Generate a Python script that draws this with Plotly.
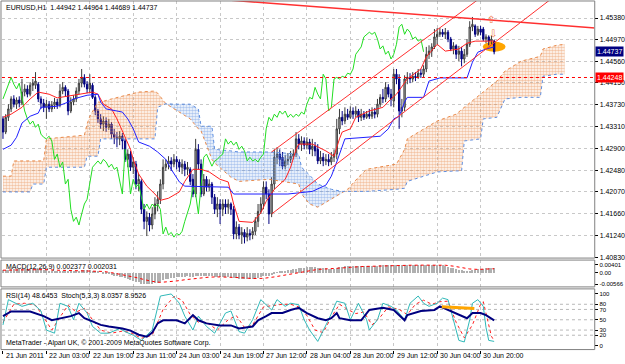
import plotly.graph_objects as go

W, H = 625, 364
BASE, PIP = 1.4, 0.0001

# ---------------- data ----------------
# H1 bars, index 0 = 21 Jun 2011 11:00 ; prices in pips above 1.4000
BAR_OPEN = [
    346, 321, 349, 365, 384, 374, 382, 376, 397, 403,
    393, 410, 410, 412, 384, 376, 368, 374, 365, 372,
    378, 372, 399, 406, 399, 361, 378, 384, 399, 414,
    425, 412, 403, 410, 387, 361, 346, 336, 342, 330,
    336, 317, 311, 308, 313, 304, 269, 279, 254, 260,
    222, 227, 174, 151, 159, 144, 165, 184, 193, 222,
    254, 260, 266, 260, 269, 264, 254, 260, 250, 250,
    231, 203, 288, 260, 203, 231, 216, 222, 197, 174,
    184, 174, 184, 178, 184, 174, 127, 140, 125, 130,
    121, 128, 125, 132, 151, 170, 184, 216, 203, 165,
    222, 273, 279, 273, 256, 266, 269, 275, 279, 308,
    298, 304, 296, 302, 288, 294, 288, 266, 273, 266,
    269, 264, 273, 279, 327, 349, 342, 355, 349, 361,
    355, 361, 349, 355, 349, 355, 351, 359, 355, 374,
    387, 384, 406, 393, 380, 431, 422, 361, 368, 422,
    425, 422, 427, 425, 433, 431, 441, 469, 475, 483,
    502, 507, 511, 507, 511, 498, 479, 485, 469, 475,
    460, 469, 488, 521, 523, 507, 517, 517, 498, 502,
    494, 494.2]
BAR_HIGH = [
    351, 355, 374, 389, 391, 387, 389, 422, 412, 410,
    416, 422, 435, 416, 389, 384, 382, 380, 380, 386,
    384, 412, 416, 410, 403, 387, 391, 406, 422, 441,
    431, 418, 431, 414, 391, 365, 355, 351, 349, 346,
    340, 327, 321, 323, 319, 308, 288, 285, 273, 266,
    241, 231, 184, 170, 167, 178, 197, 208, 231, 269,
    269, 275, 273, 279, 275, 269, 269, 266, 264, 254,
    241, 308, 298, 269, 241, 237, 231, 226, 203, 197,
    193, 193, 193, 193, 187, 180, 151, 146, 140, 136,
    140, 136, 140, 159, 184, 197, 227, 227, 212, 235,
    288, 292, 288, 283, 277, 281, 285, 288, 321, 317,
    313, 311, 311, 308, 308, 302, 298, 285, 281, 279,
    279, 283, 288, 346, 365, 361, 368, 365, 370, 368,
    370, 365, 365, 361, 361, 365, 368, 367, 384, 393,
    403, 416, 412, 403, 441, 441, 431, 384, 429, 435,
    433, 435, 435, 441, 441, 448, 483, 486, 490, 517,
    519, 519, 517, 519, 515, 502, 492, 488, 485, 483,
    479, 498, 532, 540, 526, 523, 523, 521, 507, 505,
    504, 496.4]
BAR_LOW = [
    308, 317, 342, 359, 368, 365, 368, 372, 389, 387,
    389, 399, 403, 378, 365, 359, 346, 359, 359, 365,
    365, 368, 393, 389, 353, 357, 372, 378, 393, 406,
    406, 395, 397, 384, 353, 338, 327, 323, 321, 325,
    308, 298, 292, 296, 288, 264, 254, 247, 241, 212,
    208, 165, 136, 123, 132, 136, 155, 170, 184, 212,
    247, 250, 247, 254, 250, 245, 241, 237, 239, 220,
    197, 197, 250, 197, 199, 208, 208, 184, 165, 159,
    146, 161, 165, 165, 163, 117, 117, 117, 108, 109,
    113, 115, 117, 125, 140, 165, 174, 193, 146, 159,
    212, 260, 256, 250, 250, 258, 262, 269, 273, 288,
    285, 288, 288, 279, 275, 275, 260, 260, 256, 258,
    256, 258, 264, 269, 317, 334, 336, 344, 346, 346,
    349, 340, 342, 344, 346, 346, 346, 347, 349, 368,
    376, 378, 387, 370, 368, 412, 327, 349, 361, 412,
    414, 416, 418, 422, 424, 425, 435, 460, 464, 479,
    488, 502, 502, 498, 492, 475, 469, 460, 456, 446,
    452, 464, 483, 513, 502, 504, 505, 494, 490, 486,
    488, 468.9]
BAR_CLOSE = [
    321, 349, 365, 384, 374, 382, 376, 397, 403, 393,
    410, 414, 418, 384, 376, 368, 374, 365, 372, 378,
    372, 399, 406, 399, 361, 378, 384, 399, 414, 425,
    412, 403, 414, 387, 361, 346, 336, 342, 330, 336,
    317, 311, 308, 313, 304, 269, 279, 254, 264, 222,
    231, 174, 151, 159, 144, 165, 184, 193, 222, 254,
    260, 266, 260, 269, 264, 254, 260, 250, 254, 227,
    203, 288, 260, 203, 231, 216, 222, 197, 174, 184,
    174, 184, 178, 184, 174, 127, 140, 125, 130, 121,
    128, 125, 132, 151, 170, 184, 216, 203, 165, 222,
    273, 279, 269, 256, 266, 269, 275, 279, 308, 298,
    304, 296, 302, 288, 294, 285, 266, 273, 266, 269,
    264, 273, 279, 327, 349, 342, 355, 349, 361, 355,
    361, 349, 355, 349, 355, 351, 359, 355, 374, 387,
    384, 406, 393, 384, 431, 422, 361, 368, 422, 425,
    422, 427, 425, 433, 431, 441, 469, 475, 483, 502,
    507, 511, 507, 511, 498, 479, 485, 469, 475, 460,
    469, 488, 521, 526, 507, 517, 511, 498, 502, 494,
    498, 473.7]

TIME_LABEL_BARS = [0, 16, 32, 48, 64, 80, 96, 112, 128, 144, 160, 176]
TIME_LABELS = ["21 Jun 2011", "22 Jun 03:00", "22 Jun 19:00", "23 Jun 11:00",
               "24 Jun 03:00", "24 Jun 19:00", "27 Jun 12:00", "28 Jun 04:00",
               "28 Jun 20:00", "29 Jun 12:00", "30 Jun 04:00", "30 Jun 20:00"]
PRICE_TICKS = [1.45380, 1.44970, 1.44560, 1.44150, 1.43730, 1.43310,
               1.42900, 1.42480, 1.42070, 1.41660, 1.41240, 1.40830]

# Ichimoku (pips above 1.4000)
TENKAN_BARS = [0, 3, 7, 10, 13, 17, 20, 24, 28, 33, 35, 37, 40, 42, 44, 47, 48, 50, 53, 56,
               58, 61, 65, 67, 70, 73, 76, 80, 83, 85, 87, 92, 95, 97, 100, 104, 106, 108,
               109, 114, 119, 122, 124, 125, 128, 130, 135, 140, 143, 145, 149, 154, 156,
               160, 163, 168, 171, 174, 181]
TENKAN = [349, 355, 368, 384, 397, 393, 386, 389, 393, 397, 393, 374, 365, 346, 323, 288, 269,
          241, 218, 203, 191, 195, 207, 227, 250, 250, 245, 231, 226, 184, 151, 149, 167, 189,
          212, 231, 254, 288, 298, 298, 285, 275, 308, 321, 327, 349, 361, 368, 384, 393, 422,
          441, 464, 488, 475, 479, 490, 494, 494]
KIJUN_BARS = [0, 3, 5, 7, 10, 13, 14, 20, 24, 26, 31, 35, 36, 38, 44, 46, 48, 50, 54, 57, 60,
              62, 65, 67, 83, 85, 105, 114, 119, 121, 123, 126, 139, 142, 144, 146, 148, 149,
              155, 157, 161, 171, 173, 175, 178, 181]
KIJUN = [288, 296, 311, 338, 351, 357, 368, 370, 378, 384, 391, 393, 378, 365, 359, 346, 327,
         302, 294, 283, 269, 250, 226, 218, 216, 203, 203, 208, 220, 237, 264, 308, 313, 327,
         346, 351, 378, 387, 387, 418, 424, 424, 454, 473, 479, 483]
KUMO_BARS = [0, 3, 4, 10, 11, 15, 16, 21, 30, 31, 32, 35, 36, 40, 50, 56, 57, 60, 63, 69, 72,
             73, 77, 78, 84, 87, 98, 109, 110, 113, 116, 121, 125, 126, 127, 131, 134, 145,
             148, 149, 156, 160, 167, 169, 170, 176, 177, 182, 185, 191, 198, 199, 204, 207]
SPAN_A = [237, 237, 266, 266, 266, 266, 308, 311, 315, 336, 351, 378, 378, 384, 397, 399, 395,
          375, 365, 346, 327, 323, 269, 262, 235, 227, 231, 222, 203, 184, 178, 193, 205, 208,
          212, 235, 250, 260, 288, 308, 330, 342, 355, 365, 368, 393, 397, 418, 437, 456, 465,
          479, 486, 488]
SPAN_B = [207, 207, 207, 207, 222, 222, 254, 254, 254, 275, 275, 275, 308, 308, 308, 308, 368,
          375, 374, 374, 365, 332, 332, 288, 285, 283, 283, 279, 254, 239, 222, 212, 208, 208,
          208, 208, 208, 212, 214, 227, 239, 245, 247, 247, 304, 308, 346, 349, 384, 387, 387,
          427, 431, 431]
CHIKOU_SHIFT = 26

# MACD(12,26,9), units of 1e-4
MACD_MAIN = [
    14, 15, 16, 17, 17, 17, 17, 18, 18, 18,
    19, 19, 20, 18, 16, 14, 13, 11, 10, 10,
    9, 10, 11, 11, 8, 8, 8, 9, 11, 13,
    13, 12, 13, 11, 8, 4, 0, -3, -6, -8,
    -12, -15, -18, -20, -23, -28, -31, -36, -39, -44,
    -47, -53, -56, -56.6, -56, -54, -51, -48, -43, -37,
    -33, -29, -27, -24, -22, -21, -20, -19, -18, -19,
    -21, -16, -15, -17, -17, -17, -17, -18, -20, -21,
    -22, -22, -22, -22, -22, -25, -27, -29, -30, -32,
    -32, -32, -32, -30, -27, -23, -18, -15, -15, -10,
    -3, 2, 6, 8, 11, 13, 15, 17, 21, 23,
    25, 26, 27, 27, 27, 27, 25, 24, 23, 22,
    21, 21, 21, 24, 28, 30, 32, 33, 34, 35,
    35, 35, 35, 35, 35, 34, 34, 34, 35, 36,
    37, 38, 38, 37, 39, 40, 37, 36, 37, 38,
    38, 38, 38, 38, 38, 38, 39, 40, 40, 40.1,
    40, 39, 37, 34, 30, 26, 22, 18, 15, 12,
    10, 9, 10, 13, 16, 18, 20, 21, 22, 23,
    23.5, 23.77]
MACD_SIG_BARS = [0, 5, 10, 15, 20, 25, 30, 34, 37, 40, 43, 46, 49, 52, 55, 58, 61, 64, 67, 70,
                 73, 76, 80, 84, 88, 92, 96, 100, 104, 108, 112, 116, 120, 124, 128, 132, 136,
                 140, 145, 150, 155, 160, 163, 166, 169, 172, 175, 178, 181]
MACD_SIG = [13, 15, 17, 16, 13, 11, 11, 11, 7, 1, -6, -14, -23, -33, -42, -47, -45, -40, -34,
            -29, -24, -21, -20, -21, -24, -28, -27, -20, -10, 0, 10, 17, 20, 22, 27, 31, 33,
            35, 37, 37.5, 38, 39, 37.5, 33, 26, 19, 17, 18.8, 20.31]

# RSI(14) and Stochastic(5,3,3)
RSI_BARS = [0, 3, 10, 15, 18, 21, 25, 28, 30, 33, 36, 39, 44, 47, 50, 53, 55, 57, 59, 64, 67,
            70, 72, 75, 80, 84, 87, 92, 94, 97, 99, 103, 106, 109, 112, 116, 119, 121, 123,
            124, 128, 132, 135, 140, 144, 148, 149, 154, 159, 161, 165, 168, 171, 173, 176,
            178, 181]
RSI = [57, 66, 66, 57, 49, 53, 57, 63, 53, 47, 40, 37, 33, 29, 21, 17, 25, 43, 49, 49, 43, 59,
       49, 43, 39, 39, 33, 37, 49, 57, 63, 63, 69, 73, 63, 53, 49, 53, 63, 53, 49, 49, 69, 73,
       69, 49, 59, 67, 69, 76, 67, 59, 53, 63, 63, 59, 48.6453]
STO_BARS = [0, 2, 7, 11, 14, 16, 19, 21, 24, 26, 28, 31, 33, 36, 39, 43, 45, 48, 51, 55, 58,
            62, 65, 67, 70, 72, 75, 78, 82, 84, 87, 89, 92, 95, 99, 101, 104, 106, 109, 111,
            113, 116, 120, 123, 126, 128, 131, 134, 135, 138, 140, 143, 145, 148, 150, 153,
            155, 157, 160, 162, 164, 166, 168, 170, 172, 173, 175, 177, 178, 179, 180, 181]
STO_MAIN = [40, 89, 76, 82, 67, 30, 24, 82, 76, 50, 82, 63, 37, 24, 24, 33, 27, 20, 10, 30,
            96, 100, 82, 57, 30, 57, 37, 24, 63, 67, 27, 24, 50, 89, 69, 89, 76, 82, 79, 50,
            30, 8, 50, 86, 82, 50, 82, 50, 30, 50, 82, 76, 69, 50, 82, 96, 82, 76, 82, 92, 89,
            50, 10, 7, 50, 82, 89, 76, 35, 10, 9, 8.0357]
STO_SIG_BARS = [0, 4, 8, 12, 15, 18, 21, 24, 27, 30, 33, 36, 40, 44, 47, 51, 55, 59, 63, 66,
                69, 72, 75, 79, 83, 86, 89, 92, 96, 100, 103, 106, 109, 112, 115, 118, 121, 124,
                127, 130, 133, 136, 139, 142, 146, 149, 152, 155, 158, 161, 164, 167, 170, 173,
                176, 177, 178, 179, 180, 181]
STO_SIG = [45, 80, 82, 78, 55, 30, 55, 78, 65, 72, 50, 30, 24, 28, 25, 14, 20, 70, 95, 88, 60,
           45, 45, 30, 50, 58, 35, 40, 75, 78, 80, 80, 75, 58, 30, 25, 55, 80, 70, 62, 65, 40,
           55, 75, 70, 60, 80, 88, 80, 85, 86, 45, 15, 40, 80, 85, 65, 40, 18, 8.9526]
RSI_LEVELS = [20, 30, 50, 70, 80]

# objects drawn on the chart
HLINE_PRICE = 1.44248
LAST_PRICE = 1.44737
TREND_DOWN_BARS = [78, 232]
TREND_DOWN = [574.2, 513.6]
CHANNEL_UP_BARS = [99, 190]
CHANNEL_UP = [283, 630]
CHANNEL_LO_BARS = [99, 215]
CHANNEL_LO = [165, 626]
RSI_TREND_BARS = [161.7, 173.7]
RSI_TREND = [75, 72]
ELLIPSE_BARS = [176.8, 185.2]
ELLIPSE_PIPS = [474, 493]
ARROW_BARS = [179.8, 180.4]
ARROW_PIPS = [536, 508]
ARROW_TXT = ["\u21e7", "\u21e9"]

# ---------------- helpers ----------------
def p(v):
    return BASE + v * PIP

def fy(pix):
    return 1 - pix / H

FONT = "Liberation Sans, Arial, sans-serif"
X0_PIX, SP = 3.0, 2.74
XR = [(2 - X0_PIX) / SP, (600 - X0_PIX) / SP]
N = len(BAR_CLOSE)
bars = list(range(N))

fig = go.Figure()

# --- Kumo (cloud) ---
def kumo_segments(bx, a, b):
    segs, start, sign = [], 0, 0
    for k in range(len(bx)):
        s = (a[k] > b[k]) - (a[k] < b[k])
        if s == 0:
            if sign != 0:
                segs.append((start, k, sign))
            start, sign = k, 0
            continue
        if sign == 0:
            sign = s
        elif s != sign:
            segs.append((start, k - 1, sign))
            start, sign = k - 1, s
    if sign != 0:
        segs.append((start, len(bx) - 1, sign))
    return segs

ORANGE = "#e8894a"
BLUEK = "#5f8fe0"
for i0, i1, sgn in kumo_segments(KUMO_BARS, SPAN_A, SPAN_B):
    xs = KUMO_BARS[i0:i1 + 1]
    ys = [p(v) for v in SPAN_A[i0:i1 + 1]] + [p(v) for v in SPAN_B[i0:i1 + 1]][::-1]
    col = ORANGE if sgn > 0 else BLUEK
    fig.add_trace(go.Scatter(
        x=xs + xs[::-1], y=ys, fill="toself", mode="lines", line=dict(width=0),
        fillcolor="rgba(0,0,0,0)",
        fillpattern=dict(shape=".", fgcolor=col, bgcolor="rgba(0,0,0,0)", size=3, solidity=0.6),
        hoverinfo="skip", showlegend=False, xaxis="x", yaxis="y"))
fig.add_trace(go.Scatter(x=KUMO_BARS, y=[p(v) for v in SPAN_A], mode="lines",
                         line=dict(color=ORANGE, width=1, dash="dot"), showlegend=False))
fig.add_trace(go.Scatter(x=KUMO_BARS, y=[p(v) for v in SPAN_B], mode="lines",
                         line=dict(color=BLUEK, width=1, dash="dot"), showlegend=False))

# --- Chikou ---
fig.add_trace(go.Scatter(x=[i - CHIKOU_SHIFT for i in bars[CHIKOU_SHIFT:]],
                         y=[p(v) for v in BAR_CLOSE[CHIKOU_SHIFT:]], mode="lines",
                         line=dict(color="#22dd22", width=1), showlegend=False))

# --- candles ---
fig.add_trace(go.Candlestick(
    x=bars, open=[p(v) for v in BAR_OPEN], high=[p(v) for v in BAR_HIGH],
    low=[p(v) for v in BAR_LOW], close=[p(v) for v in BAR_CLOSE],
    increasing=dict(line=dict(color="#3a3a3a", width=1), fillcolor="#c0c0c0"),
    decreasing=dict(line=dict(color="#000080", width=1), fillcolor="#000080"),
    whiskerwidth=0, showlegend=False, xaxis="x", yaxis="y"))

# --- Tenkan / Kijun ---
fig.add_trace(go.Scatter(x=TENKAN_BARS, y=[p(v) for v in TENKAN], mode="lines",
                         line=dict(color="#ff2020", width=1), showlegend=False))
fig.add_trace(go.Scatter(x=KIJUN_BARS, y=[p(v) for v in KIJUN], mode="lines",
                         line=dict(color="#2020ff", width=1), showlegend=False))

# --- trend lines ---
for bx, pv, w in [(TREND_DOWN_BARS, TREND_DOWN, 1.5), (CHANNEL_UP_BARS, CHANNEL_UP, 1),
                  (CHANNEL_LO_BARS, CHANNEL_LO, 1)]:
    fig.add_trace(go.Scatter(x=bx, y=[p(v) for v in pv], mode="lines",
                             line=dict(color="#ff3030", width=w), showlegend=False))

# --- MACD ---
fig.add_trace(go.Bar(x=bars, y=[v * 1e-4 for v in MACD_MAIN], width=0.4,
                     marker=dict(color="#b0b0b0", line=dict(width=0)),
                     showlegend=False, xaxis="x2", yaxis="y2"))
fig.add_trace(go.Scatter(x=MACD_SIG_BARS, y=[v * 1e-4 for v in MACD_SIG], mode="lines",
                         line=dict(color="#ff0000", width=1, dash="dot"),
                         showlegend=False, xaxis="x2", yaxis="y2"))

# --- RSI / Stoch ---
fig.add_trace(go.Scatter(x=STO_SIG_BARS, y=STO_SIG, mode="lines",
                         line=dict(color="#ff2020", width=1, dash="dot"),
                         showlegend=False, xaxis="x3", yaxis="y3"))
fig.add_trace(go.Scatter(x=STO_BARS, y=STO_MAIN, mode="lines",
                         line=dict(color="#30b8b8", width=1),
                         showlegend=False, xaxis="x3", yaxis="y3"))
fig.add_trace(go.Scatter(x=RSI_BARS, y=RSI, mode="lines",
                         line=dict(color="#000080", width=2),
                         showlegend=False, xaxis="x3", yaxis="y3"))
fig.add_trace(go.Scatter(x=RSI_TREND_BARS, y=RSI_TREND, mode="lines",
                         line=dict(color="#ffa500", width=3),
                         showlegend=False, xaxis="x3", yaxis="y3"))

# ---------------- layout ----------------
XD = [2 / W, 600 / W]
grid = dict(showgrid=True, gridcolor="#c8c8c8", griddash="dot", gridwidth=1)
tickf = dict(family=FONT, size=7, color="#000000")
tickf_small = dict(family=FONT, size=6, color="#000000")

shapes = []
for lv in RSI_LEVELS:
    shapes.append(dict(type="line", xref="x3 domain", x0=0, x1=1, yref="y3", y0=lv, y1=lv,
                       line=dict(color="#b8b8b8", width=1, dash="dot"), layer="below"))
shapes.append(dict(type="line", xref="x domain", x0=0, x1=1, yref="y", y0=HLINE_PRICE,
                   y1=HLINE_PRICE, line=dict(color="#ff0000", width=1, dash="dot")))
shapes.append(dict(type="circle", xref="x", yref="y", x0=ELLIPSE_BARS[0], x1=ELLIPSE_BARS[1],
                   y0=p(ELLIPSE_PIPS[0]), y1=p(ELLIPSE_PIPS[1]), fillcolor="#ffa500",
                   line=dict(width=0), layer="below"))
for top, bot in [(1, 259.5), (261.5, 288.5), (290.5, 351.5)]:
    shapes.append(dict(type="rect", xref="paper", yref="paper", x0=1 / W, x1=600.5 / W,
                       y0=fy(bot), y1=fy(top), line=dict(color="#808080", width=1)))

ann = []
def txt(x, y, s, size=7, color="#000000", **kw):
    ann.append(dict(xref="paper", yref="paper", x=x / W, y=fy(y), text=s, showarrow=False,
                    xanchor="left", yanchor="middle", font=dict(family=FONT, size=size, color=color),
                    **kw))

txt(4, 8, "EURUSD,H1&nbsp;&nbsp;1.44942 1.44964 1.44689 1.44737")
txt(4, 268, "MACD(12,26,9) 0.002377 0.002031")
txt(4, 298, "RSI(14) 48.6453&nbsp;&nbsp;Stoch(5,3,3) 8.0357 8.9526")
txt(4, 345, "MetaTrader - Alpari UK, \u00a9 2001-2009 MetaQuotes Software Corp.")
for b, s in zip(TIME_LABEL_BARS, TIME_LABELS):
    ann.append(dict(xref="x3", yref="paper", x=b + 0.3, y=fy(357.5), text=s, showarrow=False,
                    xanchor="left", yanchor="middle", font=dict(family=FONT, size=7, color="#000")))
for val, bg in [(LAST_PRICE, "#000080"), (HLINE_PRICE, "#ff0000")]:
    ann.append(dict(xref="paper", yref="y", x=601 / W, y=val, text="%.5f" % val, showarrow=False,
                    xanchor="left", yanchor="middle", bgcolor=bg, borderpad=1,
                    font=dict(family=FONT, size=7, color="#ffffff")))
for b, pv, s in zip(ARROW_BARS, ARROW_PIPS, ARROW_TXT):
    ann.append(dict(xref="x", yref="y", x=b, y=p(pv), text=s, showarrow=False,
                    font=dict(family="DejaVu Sans", size=10, color="#f07848")))

fig.update_layout(
    width=W, height=H, margin=dict(l=0, r=0, t=0, b=0),
    paper_bgcolor="#ffffff", plot_bgcolor="#ffffff", showlegend=False,
    font=dict(family=FONT, size=7, color="#000"),
    xaxis=dict(domain=XD, range=XR, anchor="y", tickvals=TIME_LABEL_BARS, showticklabels=False,
               ticks="", zeroline=False, rangeslider=dict(visible=False), **grid),
    yaxis=dict(domain=[fy(259.5), fy(1)], range=[p(81.1), p(570.4)], anchor="x", side="right",
               tickvals=PRICE_TICKS, ticktext=["%.5f" % v for v in PRICE_TICKS], tickfont=tickf,
               ticks="outside", ticklen=3, tickcolor="#000", zeroline=False,
               showline=False, **grid),
    xaxis2=dict(domain=XD, range=XR, anchor="y2", matches="x", tickvals=TIME_LABEL_BARS,
                showticklabels=False, ticks="", zeroline=False, **grid),
    yaxis2=dict(domain=[fy(288.5), fy(261.5)], range=[-0.00693, 0.00630], anchor="x2",
                side="right", tickvals=[0.00401, 0, -0.00566],
                ticktext=["0.00401", "0.00", "-0.00566"], tickfont=tickf_small, ticks="outside",
                ticklen=3, tickcolor="#000", showgrid=False, zeroline=False),
    xaxis3=dict(domain=XD, range=XR, anchor="y3", matches="x", tickvals=TIME_LABEL_BARS,
                showticklabels=False, ticks="outside", ticklen=3, tickcolor="#000",
                zeroline=False, **grid),
    yaxis3=dict(domain=[fy(351.5), fy(290.5)], range=[-7.8, 109.8], anchor="x3", side="right",
                tickvals=[0, 20, 30, 50, 70, 80, 100], tickfont=tickf_small, ticks="outside",
                ticklen=3, tickcolor="#000", showgrid=False, zeroline=False),
    shapes=shapes, annotations=ann, bargap=0,
)

fig.write_html("out.html", config={"displayModeBar": False})
